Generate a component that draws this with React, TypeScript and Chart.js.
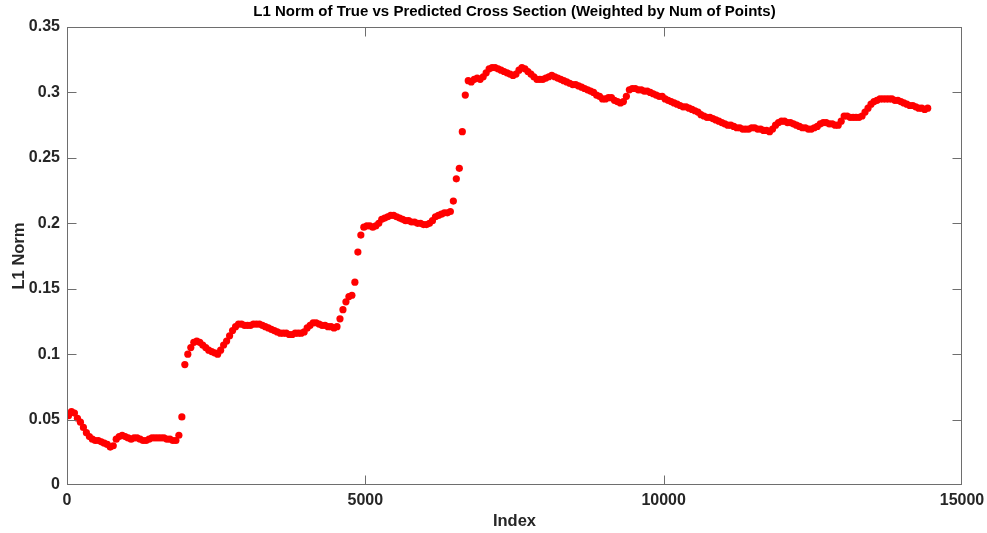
import React, { useEffect, useRef } from 'react';
import { Chart, registerables } from 'chart.js';

Chart.register(...registerables);

const CHART_TITLE = 'L1 Norm of True vs Predicted Cross Section (Weighted by Num of Points)';
const X_LABEL = 'Index';
const Y_LABEL = 'L1 Norm';

const X_TICKS = [0, 5000, 10000, 15000];
const X_TICK_LABELS = ['0', '5000', '10000', '15000'];
const Y_TICKS = [0, 0.05, 0.1, 0.15, 0.2, 0.25, 0.3, 0.35];
const Y_TICK_LABELS = ['0', '0.05', '0.1', '0.15', '0.2', '0.25', '0.3', '0.35'];

// sample positions: first index and spacing between samples
const FIRST_INDEX = 25;
const INDEX_STEP = 50;

// L1 norm per sample
const l1Norm = [
  0.053, 0.056, 0.055, 0.051, 0.048, 0.044, 0.040, 0.037, 0.035, 0.034,
  0.034, 0.033, 0.032, 0.031, 0.029, 0.030, 0.035, 0.037, 0.038, 0.037,
  0.036, 0.035, 0.036, 0.036, 0.035, 0.034, 0.034, 0.035, 0.036, 0.036,
  0.036, 0.036, 0.036, 0.035, 0.035, 0.034, 0.034, 0.038, 0.052, 0.092,
  0.100, 0.105, 0.109, 0.110, 0.109, 0.107, 0.105, 0.103, 0.102, 0.101,
  0.100, 0.103, 0.107, 0.110, 0.114, 0.118, 0.121, 0.123, 0.123, 0.122,
  0.122, 0.122, 0.123, 0.123, 0.123, 0.122, 0.121, 0.120, 0.119, 0.118,
  0.117, 0.116, 0.116, 0.116, 0.115, 0.115, 0.116, 0.116, 0.116, 0.117,
  0.120, 0.122, 0.124, 0.124, 0.123, 0.122, 0.122, 0.121, 0.121, 0.120,
  0.121, 0.127, 0.134, 0.140, 0.144, 0.145, 0.155, 0.178, 0.191, 0.197,
  0.198, 0.198, 0.197, 0.198, 0.200, 0.203, 0.204, 0.205, 0.206, 0.206,
  0.205, 0.204, 0.203, 0.202, 0.202, 0.201, 0.201, 0.200, 0.200, 0.199,
  0.199, 0.200, 0.202, 0.205, 0.206, 0.207, 0.208, 0.208, 0.209, 0.217,
  0.234, 0.242, 0.270, 0.298, 0.309, 0.308, 0.310, 0.311, 0.310, 0.312,
  0.315, 0.318, 0.319, 0.319, 0.318, 0.317, 0.316, 0.315, 0.314, 0.313,
  0.314, 0.317, 0.319, 0.318, 0.316, 0.314, 0.312, 0.310, 0.310, 0.310,
  0.311, 0.312, 0.313, 0.312, 0.311, 0.310, 0.309, 0.308, 0.307, 0.306,
  0.306, 0.305, 0.304, 0.303, 0.302, 0.301, 0.300, 0.298, 0.297, 0.295,
  0.295, 0.296, 0.296, 0.294, 0.293, 0.292, 0.293, 0.297, 0.302, 0.303,
  0.303, 0.302, 0.302, 0.301, 0.301, 0.300, 0.299, 0.298, 0.297, 0.297,
  0.295, 0.294, 0.293, 0.292, 0.291, 0.290, 0.289, 0.289, 0.288, 0.287,
  0.286, 0.285, 0.283, 0.282, 0.281, 0.281, 0.280, 0.279, 0.278, 0.277,
  0.276, 0.275, 0.275, 0.274, 0.273, 0.273, 0.272, 0.272, 0.272, 0.273,
  0.273, 0.272, 0.272, 0.271, 0.271, 0.270, 0.272, 0.275, 0.277, 0.278,
  0.278, 0.277, 0.277, 0.276, 0.275, 0.274, 0.273, 0.273, 0.272, 0.272,
  0.273, 0.274, 0.276, 0.277, 0.277, 0.276, 0.276, 0.275, 0.275, 0.278,
  0.282, 0.282, 0.281, 0.281, 0.281, 0.281, 0.282, 0.285, 0.288, 0.291,
  0.293, 0.294, 0.295, 0.295, 0.295, 0.295, 0.295, 0.294, 0.294, 0.293,
  0.292, 0.291, 0.290, 0.290, 0.289, 0.288, 0.288, 0.287, 0.288,
];

const sampleIndex = l1Norm.map((_, i) => FIRST_INDEX + i * INDEX_STEP);

const FONT_FAMILY = "'Liberation Sans', Arial, Helvetica, sans-serif";
const TEXT_COLOR = '#262626';
const AXIS_COLOR = '#6e6e6e';
const TICK_LEN = 9;

const boxPlugin = {
  id: 'matlabBox',
  afterDatasetsDraw(chart: any) {
    const { ctx, chartArea, scales } = chart;
    const { left, right, top, bottom } = chartArea;
    ctx.save();
    ctx.strokeStyle = AXIS_COLOR;
    ctx.lineWidth = 1;
    const L = Math.round(left) + 0.5;
    const R = Math.round(right) - 0.5;
    const T = Math.round(top) + 0.5;
    const B = Math.round(bottom) - 0.5;
    ctx.strokeRect(L, T, R - L, B - T);
    ctx.beginPath();
    X_TICKS.forEach((v) => {
      const px = Math.round(scales.x.getPixelForValue(v)) + 0.5;
      if (px <= L + 1 || px >= R - 1) return;
      ctx.moveTo(px, B);
      ctx.lineTo(px, B - TICK_LEN);
      ctx.moveTo(px, T);
      ctx.lineTo(px, T + TICK_LEN);
    });
    Y_TICKS.forEach((v) => {
      const py = Math.round(scales.y.getPixelForValue(v)) + 0.5;
      if (py <= T + 1 || py >= B - 1) return;
      ctx.moveTo(L, py);
      ctx.lineTo(L + TICK_LEN, py);
      ctx.moveTo(R, py);
      ctx.lineTo(R - TICK_LEN, py);
    });
    ctx.stroke();
    ctx.restore();
  },
};

export default function App() {
  const canvasRef = useRef<HTMLCanvasElement | null>(null);

  useEffect(() => {
    if (!canvasRef.current) return;
    const points = sampleIndex.map((x, i) => ({ x, y: l1Norm[i] }));
    const chart = new Chart(canvasRef.current, {
      type: 'scatter',
      data: {
        datasets: [
          {
            data: points,
            backgroundColor: '#ff0000',
            borderWidth: 0,
            pointRadius: 3.6,
            pointHoverRadius: 3.6,
            showLine: false,
          },
        ],
      },
      plugins: [boxPlugin],
      options: {
        animation: false,
        responsive: true,
        maintainAspectRatio: false,
        layout: { padding: { left: 0, right: 25, top: 0, bottom: 0 } },
        plugins: {
          legend: { display: false },
          tooltip: { enabled: false },
          title: {
            display: true,
            fullSize: false,
            text: CHART_TITLE,
            color: '#000000',
            font: { family: FONT_FAMILY, size: 15, weight: 'bold' },
            padding: { top: 3, bottom: 6 },
          },
        },
        scales: {
          x: {
            type: 'linear',
            min: 0,
            max: 15000,
            afterBuildTicks: (scale: any) => {
              scale.ticks = X_TICKS.map((v) => ({ value: v }));
            },
            afterFit: (scale: any) => {
              scale.height = 48;
              scale.paddingLeft = 0;
              scale.paddingRight = 0;
            },
            ticks: {
              color: TEXT_COLOR,
              font: { family: FONT_FAMILY, size: 16, weight: 'bold' },
              padding: 6,
              maxRotation: 0,
              autoSkip: false,
              callback: (_v: any, i: number) => X_TICK_LABELS[i],
            },
            grid: { display: false, drawTicks: false },
            border: { display: false },
            title: {
              display: true,
              text: X_LABEL,
              color: TEXT_COLOR,
              font: { family: FONT_FAMILY, size: 16.5, weight: 'bold' },
              padding: { top: 0, bottom: 2 },
            },
          },
          y: {
            type: 'linear',
            min: 0,
            max: 0.35,
            afterBuildTicks: (scale: any) => {
              scale.ticks = Y_TICKS.map((v) => ({ value: v }));
            },
            afterFit: (scale: any) => {
              scale.width = 67;
              scale.paddingTop = 0;
              scale.paddingBottom = 0;
            },
            ticks: {
              color: TEXT_COLOR,
              font: { family: FONT_FAMILY, size: 16, weight: 'bold' },
              padding: 7,
              autoSkip: false,
              callback: (_v: any, i: number) => Y_TICK_LABELS[i],
            },
            grid: { display: false, drawTicks: false },
            border: { display: false },
            title: {
              display: true,
              text: Y_LABEL,
              color: TEXT_COLOR,
              font: { family: FONT_FAMILY, size: 16.5, weight: 'bold' },
              padding: { top: 10, bottom: 0 },
            },
          },
        },
      },
    } as any);
    return () => chart.destroy();
  }, []);

  return (
    <div style={{ position: 'fixed', left: 0, top: 0, width: 987, height: 533, background: '#ffffff' }}>
      <canvas ref={canvasRef} />
    </div>
  );
}
